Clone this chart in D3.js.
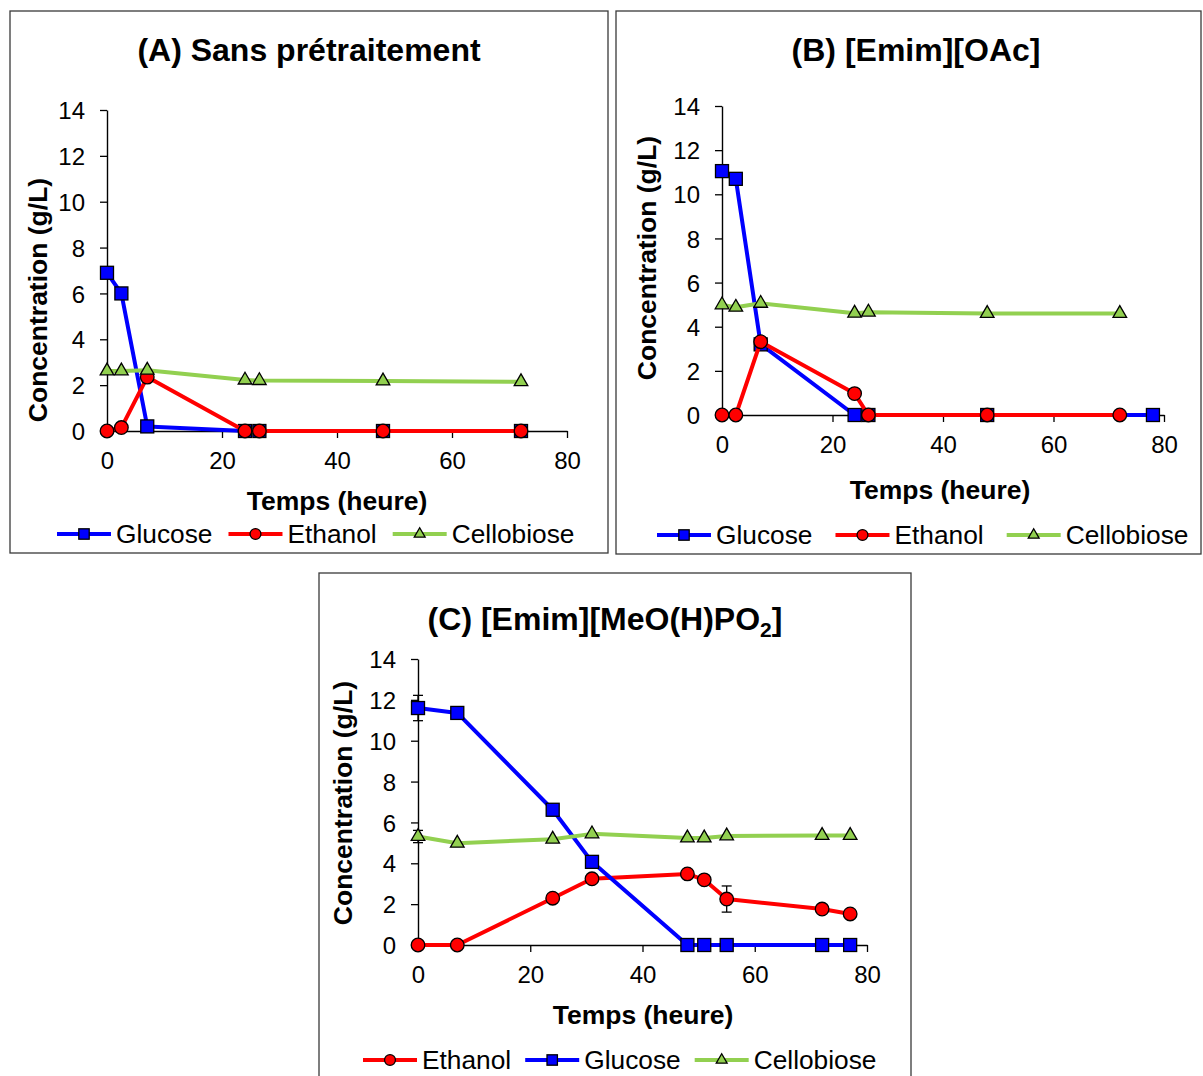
<!DOCTYPE html>
<html><head><meta charset="utf-8">
<script src="https://cdn.jsdelivr.net/npm/d3@7"></script>
<style>
html,body{margin:0;padding:0;background:#fff;}
svg{display:block;font-family:"Liberation Sans",Arial,sans-serif;}
</style></head>
<body>
<svg id="chart" width="1203" height="1076"></svg>
<script>
// ---------- DATA ----------
const yTicks = [0, 2, 4, 6, 8, 10, 12, 14];
const xTicks = [0, 20, 40, 60, 80];

// (A) Sans prétraitement
const timeA = [0, 2.5, 7, 24, 26.5, 48, 72];
const glucoseA = [6.9, 6.0, 0.2, 0, 0, 0, 0];
const ethanolA = [0, 0.15, 2.35, 0, 0, 0, 0];
const cellobioseA = [2.62, 2.62, 2.65, 2.22, 2.2, 2.18, 2.15];

// (B) [Emim][OAc]
const timeBGlucose = [0, 2.5, 7, 24, 26.5, 48, 78];
const glucoseB = [11.05, 10.7, 3.2, 0, 0, 0, 0];
const timeB = [0, 2.5, 7, 24, 26.5, 48, 72];
const ethanolB = [0, 0, 3.32, 0.97, 0, 0, 0];
const cellobioseB = [4.99, 4.88, 5.06, 4.61, 4.66, 4.6, 4.6];

// (C) [Emim][MeO(H)PO2]
const timeC = [0, 7, 24, 31, 48, 51, 55, 72, 77];
const ethanolC = [0, 0, 2.29, 3.24, 3.48, 3.19, 2.25, 1.76, 1.52];
const ethanolErrC = [0, 0, 0, 0, 0, 0, 0.64, 0, 0];
const glucoseC = [11.6, 11.36, 6.62, 4.07, 0, 0, 0, 0, 0];
const glucoseErrC = [0.62, 0, 0, 0, 0, 0, 0, 0, 0];
const cellobioseC = [5.31, 4.98, 5.18, 5.44, 5.24, 5.24, 5.34, 5.36, 5.36];
const cellobioseErrC = [0.3, 0, 0, 0, 0, 0, 0, 0, 0];

// ---------- STYLE ----------
const COL = {Glucose: "#0000FF", Ethanol: "#FF0000", Cellobiose: "#92D050"};
const SHAPE = {Glucose: "square", Ethanol: "circle", Cellobiose: "triangle"};

const svg = d3.select("#chart");

function marker(g, shape, x, y, color, s) {
  s = s || 1;
  if (shape === "square") {
    g.append("rect").attr("x", x - 6.5*s).attr("y", y - 6.5*s).attr("width", 13*s).attr("height", 13*s)
      .attr("fill", color).attr("stroke", "#000").attr("stroke-width", 1.3);
  } else if (shape === "circle") {
    g.append("circle").attr("cx", x).attr("cy", y).attr("r", 6.8*s)
      .attr("fill", color).attr("stroke", "#000").attr("stroke-width", 1.3);
  } else {
    const sym = d3.symbol().type(d3.symbolTriangle).size(80*s*s);
    g.append("path").attr("d", sym()).attr("transform", `translate(${x},${y})`)
      .attr("fill", color).attr("stroke", "#000").attr("stroke-width", 1.3);
  }
}

function panel(cfg) {
  const g = svg.append("g");
  // frame
  g.append("rect").attr("x", cfg.box[0]).attr("y", cfg.box[1])
    .attr("width", cfg.box[2]).attr("height", cfg.box[3])
    .attr("fill", "#fff").attr("stroke", "#3a3a3a").attr("stroke-width", 1.3);

  const x = d3.scaleLinear().domain([0, 80]).range([cfg.x0, cfg.x1]);
  const y = d3.scaleLinear().domain([0, 14]).range([cfg.y0, cfg.y1]);

  // title
  const t = g.append("text").attr("x", cfg.titleX).attr("y", cfg.titleY)
    .attr("text-anchor", "middle").attr("font-size", 32).attr("font-weight", "bold");
  cfg.title.forEach(p => {
    const ts = t.append("tspan").text(p.t);
    if (p.sub) ts.attr("font-size", 21).attr("dy", 7);
    if (p.after) ts.attr("dy", -7);
  });

  // axes
  const ax = g.append("g").attr("transform", `translate(0,${cfg.y0})`)
    .call(d3.axisBottom(x).tickValues(xTicks).tickSize(7).tickPadding(14).tickSizeOuter(0));
  const ay = g.append("g").attr("transform", `translate(${cfg.x0},0)`)
    .call(d3.axisLeft(y).tickValues(yTicks).tickSize(7).tickPadding(15).tickSizeOuter(0));
  [ax, ay].forEach(a => {
    a.select(".domain").attr("stroke", "#000").attr("stroke-width", 1.4);
    a.selectAll(".tick line").attr("stroke", "#000").attr("stroke-width", 1.3);
    a.selectAll(".tick text").attr("font-size", 24).attr("fill", "#000")
      .attr("font-family", '"Liberation Sans",Arial,sans-serif');
  });
  ax.selectAll(".tick text").attr("dy", "0.71em");
  ay.selectAll(".tick text").attr("dy", "0.36em");

  // axis titles
  g.append("text").attr("x", cfg.xtX).attr("y", cfg.xtY).attr("text-anchor", "middle")
    .attr("font-size", 26.5).attr("font-weight", "bold").text("Temps (heure)");
  g.append("text").attr("transform", `translate(${cfg.ytX},${cfg.ytY}) rotate(-90)`)
    .attr("text-anchor", "middle").attr("font-size", 26.5).attr("font-weight", "bold")
    .text("Concentration (g/L)");

  // series
  const line = d3.line().x(d => x(d[0])).y(d => y(d[1]));
  cfg.series.forEach(s => {
    const pts = s.t.map((tt, i) => [tt, s.v[i], s.e ? s.e[i] : 0]);
    const sg = g.append("g");
    sg.append("path").datum(pts).attr("d", line).attr("fill", "none")
      .attr("stroke", COL[s.name]).attr("stroke-width", 4).attr("stroke-linejoin", "round");
    pts.forEach(p => {
      if (p[2] > 0) {
        const xx = x(p[0]);
        sg.append("line").attr("x1", xx).attr("x2", xx).attr("y1", y(p[1] - p[2])).attr("y2", y(p[1] + p[2]))
          .attr("stroke", "#000").attr("stroke-width", 1.3);
        [p[1] - p[2], p[1] + p[2]].forEach(v => {
          sg.append("line").attr("x1", xx - 5).attr("x2", xx + 5).attr("y1", y(v)).attr("y2", y(v))
            .attr("stroke", "#000").attr("stroke-width", 1.3);
        });
      }
    });
    pts.forEach(p => marker(sg, SHAPE[s.name], x(p[0]), y(p[1]), COL[s.name]));
  });

  // legend
  const lg = g.append("g");
  let lx = cfg.legX;
  cfg.legend.forEach(name => {
    lg.append("line").attr("x1", lx).attr("x2", lx + 54).attr("y1", cfg.legY).attr("y2", cfg.legY)
      .attr("stroke", COL[name]).attr("stroke-width", 4);
    marker(lg, SHAPE[name], lx + 27, cfg.legY, COL[name], 0.8);
    const tx = lg.append("text").attr("x", lx + 59).attr("y", cfg.legY).attr("dy", "0.36em")
      .attr("font-size", 26.3).text(name);
    lx += 59 + tx.node().getComputedTextLength() + cfg.legGap;
  });
}

panel({
  box: [10, 11, 598, 542],
  x0: 107, x1: 567, y0: 431, y1: 110,
  title: [{t: "(A) Sans prétraitement"}], titleX: 309, titleY: 61,
  xtX: 337, xtY: 510, ytX: 47, ytY: 300,
  series: [
    {name: "Glucose", t: timeA, v: glucoseA},
    {name: "Ethanol", t: timeA, v: ethanolA},
    {name: "Cellobiose", t: timeA, v: cellobioseA}
  ],
  legend: ["Glucose", "Ethanol", "Cellobiose"], legX: 57, legY: 534, legGap: 16
});

panel({
  box: [616, 11, 585, 543],
  x0: 722, x1: 1164, y0: 415, y1: 106,
  title: [{t: "(B) [Emim][OAc]"}], titleX: 916, titleY: 61,
  xtX: 940, xtY: 499, ytX: 656, ytY: 258,
  series: [
    {name: "Glucose", t: timeBGlucose, v: glucoseB},
    {name: "Ethanol", t: timeB, v: ethanolB},
    {name: "Cellobiose", t: timeB, v: cellobioseB}
  ],
  legend: ["Glucose", "Ethanol", "Cellobiose"], legX: 657, legY: 535, legGap: 23
});

panel({
  box: [319, 573, 592, 520],
  x0: 418, x1: 867, y0: 945, y1: 659,
  title: [{t: "(C) [Emim][MeO(H)PO"}, {t: "2", sub: true}, {t: "]", after: true}], titleX: 605, titleY: 630,
  xtX: 643, xtY: 1024, ytX: 352, ytY: 803,
  series: [
    {name: "Ethanol", t: timeC, v: ethanolC, e: ethanolErrC},
    {name: "Glucose", t: timeC, v: glucoseC, e: glucoseErrC},
    {name: "Cellobiose", t: timeC, v: cellobioseC, e: cellobioseErrC}
  ],
  legend: ["Ethanol", "Glucose", "Cellobiose"], legX: 363, legY: 1060, legGap: 14
});
</script>
</body></html>
